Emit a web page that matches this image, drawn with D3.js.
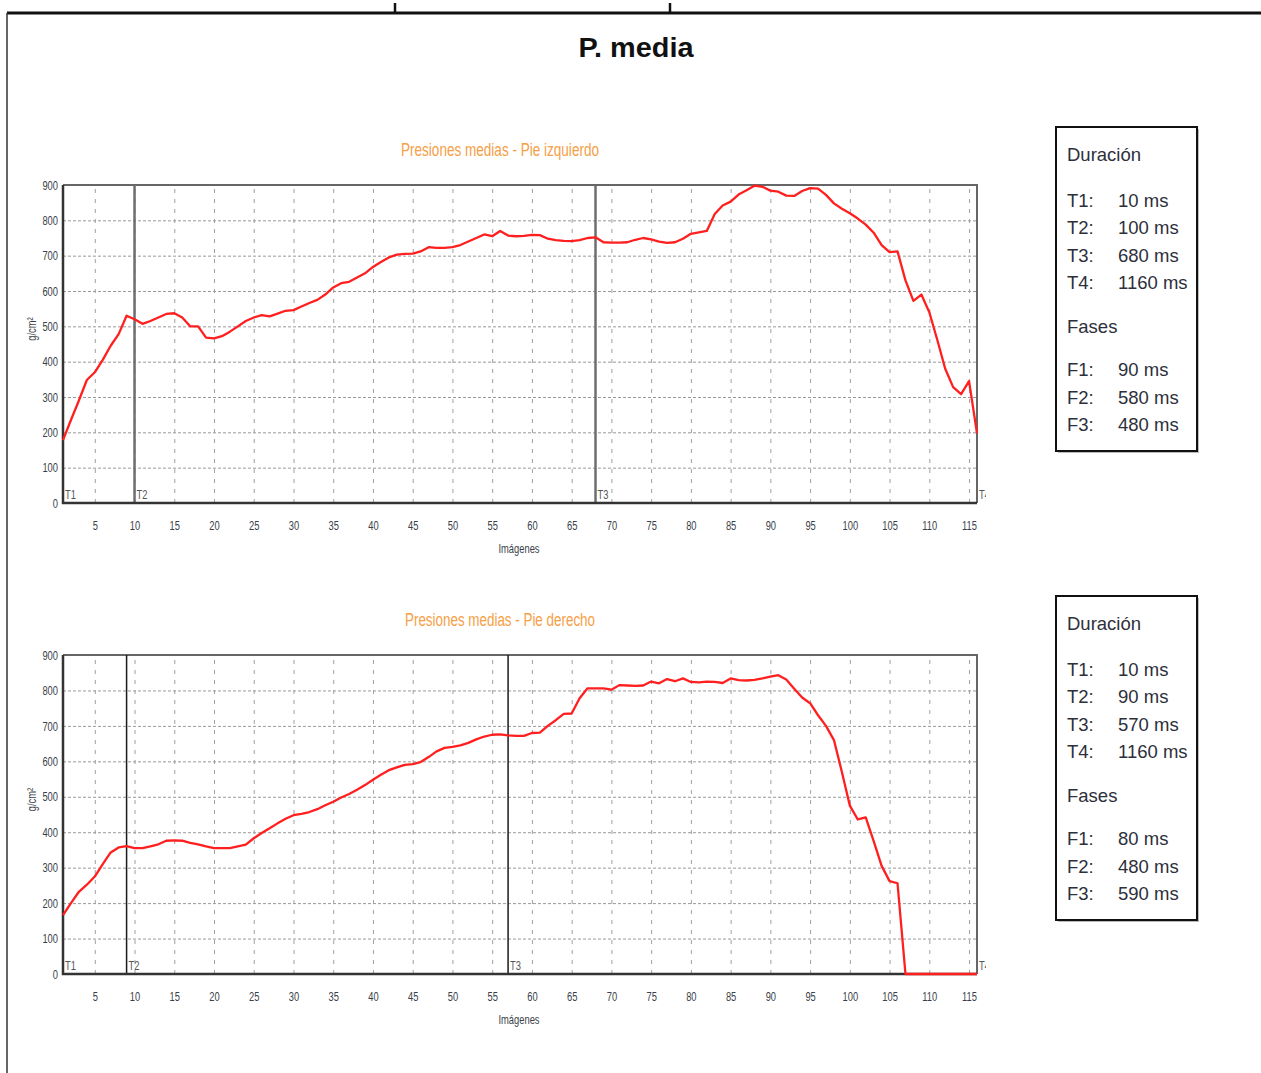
<!DOCTYPE html>
<html><head><meta charset="utf-8">
<script src="https://cdn.jsdelivr.net/npm/d3@7"></script>
<style>body{margin:0;background:#fff}svg{display:block}</style>
</head><body>
<svg id="c" width="1261" height="1073"></svg>
<script>
// ---------- data ----------
const images = d3.range(1, 117); // image index 1..116
const leftFoot = [178,235,290,348,370,405,445,478,530,520,507,515,525,535,537,525,500,500,468,466,
  472,485,500,515,525,532,528,536,544,546,556,566,575,590,610,622,626,638,650,668,
  682,695,703,705,706,712,724,722,722,724,730,740,750,760,755,770,757,755,756,759,
  758,748,744,742,741,744,750,752,738,737,737,738,745,750,746,740,736,738,748,762,
  766,770,818,842,853,873,885,898,895,884,881,870,869,883,891,890,872,848,833,820,
  805,788,765,730,710,712,630,572,590,540,462,380,328,308,345,197];
const rightFoot = [166,200,232,252,275,310,343,357,361,355,355,360,366,376,377,376,370,366,360,355,
  355,355,360,365,383,398,411,425,438,448,452,457,465,476,486,498,508,520,533,548,
  562,575,583,590,592,598,612,628,638,641,645,652,662,670,675,676,673,672,672,680,
  681,700,716,734,735,778,806,806,806,802,815,814,813,814,825,820,832,826,834,824,
  823,825,824,821,834,829,828,830,834,839,843,831,805,780,764,730,700,660,570,475,
  436,442,375,305,262,256,0,0,0,0,0,0,0,0,0,0];
const yTicks = [0,100,200,300,400,500,600,700,800,900];
const xTicks = [5,10,15,20,25,30,35,40,45,50,55,60,65,70,75,80,85,90,95,100,105,110,115];
const leftMarkLabels = ["T1","T2","T3","T4"];
const leftMarkImages = [1,10,68,116];
const rightMarkLabels = ["T1","T2","T3","T4"];
const rightMarkImages = [1,9,57,116];
const leftDurLabels = ["T1:","T2:","T3:","T4:"];
const leftDurValues = ["10 ms","100 ms","680 ms","1160 ms"];
const leftPhaseLabels = ["F1:","F2:","F3:"];
const leftPhaseValues = ["90 ms","580 ms","480 ms"];
const rightDurLabels = ["T1:","T2:","T3:","T4:"];
const rightDurValues = ["10 ms","90 ms","570 ms","1160 ms"];
const rightPhaseLabels = ["F1:","F2:","F3:"];
const rightPhaseValues = ["80 ms","480 ms","590 ms"];

// ---------- page ----------
const svg = d3.select("#c");
const narrow = "'Liberation Sans Narrow','Arial Narrow','Liberation Sans',sans-serif";
const sans = "'Liberation Sans',Arial,sans-serif";
const squeeze = "scale(0.72,1)";

// page frame
svg.append("line").attr("x1",7).attr("x2",1261).attr("y1",13).attr("y2",13).attr("stroke","#111").attr("stroke-width",3);
svg.append("line").attr("x1",7).attr("x2",7).attr("y1",13).attr("y2",1073).attr("stroke","#333").attr("stroke-width",1.5);
[395,670].forEach(x=>svg.append("line").attr("x1",x).attr("x2",x).attr("y1",3).attr("y2",13).attr("stroke","#111").attr("stroke-width",2.5));

svg.append("text").attr("x",636).attr("y",57).attr("text-anchor","middle")
  .attr("font-family",sans).attr("font-weight","bold").attr("font-size",27).attr("fill","#111")
  .attr("textLength",115).attr("lengthAdjust","spacingAndGlyphs")
  .text("P. media");

const x = d3.scaleLinear().domain([1,116]).range([63,977]);

function chart(cfg){
  const y = d3.scaleLinear().domain([0,900]).range([cfg.bottom, cfg.top]);
  const g = svg.append("g");
  // subtitle
  g.append("text").attr("x",500).attr("y",cfg.top-29).attr("text-anchor","middle")
    .attr("font-family",narrow).attr("font-size",18).attr("fill","#f5a046")
    .attr("textLength",cfg.subW).attr("lengthAdjust","spacingAndGlyphs").text(cfg.subtitle);
  // horizontal grid
  g.append("g").attr("transform",`translate(${x.range()[0]},0)`)
    .call(d3.axisLeft(y).tickValues(yTicks.slice(1)).tickSize(-(x.range()[1]-x.range()[0])).tickFormat(""))
    .call(a=>a.select(".domain").remove())
    .call(a=>a.selectAll("line").attr("stroke","#999").attr("stroke-width",1).attr("stroke-dasharray","3,2"));
  // vertical grid
  g.append("g").attr("transform",`translate(0,${cfg.bottom})`)
    .call(d3.axisBottom(x).tickValues(xTicks).tickSize(-(cfg.bottom-cfg.top)).tickFormat(""))
    .call(a=>a.select(".domain").remove())
    .call(a=>a.selectAll("line").attr("stroke","#a0a0a0").attr("stroke-width",1).attr("stroke-dasharray","4,6"));
  // y labels
  g.append("g").attr("transform",`translate(${x.range()[0]-5},0)`)
    .call(d3.axisLeft(y).tickValues(yTicks).tickSize(0).tickPadding(0))
    .call(a=>a.select(".domain").remove())
    .call(a=>a.selectAll("text").attr("font-family",narrow).attr("font-size",13).attr("fill","#3b3f4a").attr("transform",squeeze));
  // x labels
  g.append("g").attr("transform",`translate(0,${cfg.bottom+18})`)
    .call(d3.axisBottom(x).tickValues(xTicks).tickSize(0).tickPadding(0))
    .call(a=>a.select(".domain").remove())
    .call(a=>a.selectAll("text").attr("font-family",narrow).attr("font-size",13).attr("fill","#3b3f4a").attr("transform",squeeze));
  g.append("text").attr("transform",`translate(519,${cfg.bottom+50}) ${squeeze}`).attr("text-anchor","middle")
    .attr("font-family",narrow).attr("font-size",13).attr("fill","#3b3f4a").text("Imágenes");
  g.append("text").attr("transform",`translate(36,${(cfg.top+cfg.bottom)/2-15}) rotate(-90) ${squeeze}`).attr("text-anchor","middle")
    .attr("font-family",narrow).attr("font-size",13).attr("fill","#3b3f4a").text("g/cm²");
  // frame: top/right
  g.append("path").attr("d",`M${x(1)},${cfg.top}H${x(116)}V${cfg.bottom}`).attr("fill","none").attr("stroke","#666").attr("stroke-width",2);
  // marker lines
  cfg.markImages.forEach((m,i)=>{
    if(i>0 && i<cfg.markImages.length-1)
      g.append("line").attr("x1",x(m)).attr("x2",x(m)).attr("y1",cfg.top).attr("y2",cfg.bottom)
        .attr("stroke",cfg.markColor).attr("stroke-width",cfg.markW);
  });
  // axes left & bottom
  g.append("path").attr("d",`M${x(1)},${cfg.top}V${cfg.bottom}H${x(116)}`).attr("fill","none").attr("stroke","#333").attr("stroke-width",2.5);
  // data line
  g.append("path").datum(images.map((d,i)=>[d,cfg.values[i]]))
    .attr("d",d3.line().x(d=>x(d[0])).y(d=>y(d[1])))
    .attr("fill","none").attr("stroke","#ff1f1f").attr("stroke-width",2.3).attr("stroke-linejoin","round");
  // marker labels
  const clipId = "clip"+cfg.top;
  g.append("clipPath").attr("id",clipId).append("rect").attr("x",0).attr("y",0).attr("width",986).attr("height",1073);
  const cg = g.append("g").attr("clip-path",`url(#${clipId})`);
  cfg.markLabels.forEach((t,i)=>{
    cg.append("text").attr("transform",`translate(${x(cfg.markImages[i])+2},${cfg.bottom-4}) ${squeeze}`)
      .attr("font-family",narrow).attr("font-size",13).attr("fill","#555").text(t);
  });
  // legend box
  const lb = g.append("g");
  lb.append("rect").attr("x",1058).attr("y",cfg.boxTop+2).attr("width",141).attr("height",324).attr("fill","#bbb");
  lb.append("rect").attr("x",1056).attr("y",cfg.boxTop).attr("width",141).attr("height",324).attr("fill","#fff").attr("stroke","#111").attr("stroke-width",2);
  const tx = (xx,yy,t)=>lb.append("text").attr("x",xx).attr("y",yy).attr("font-family",sans).attr("font-size",18.5).attr("fill","#2d2f3a").text(t);
  const b = cfg.boxTop;
  tx(1067,b+34,"Duración");
  cfg.durL.forEach((t,i)=>{ tx(1067,b+80+i*27.3,t); tx(1118,b+80+i*27.3,cfg.durV[i]); });
  tx(1067,b+206,"Fases");
  cfg.phL.forEach((t,i)=>{ tx(1067,b+249+i*27.5,t); tx(1118,b+249+i*27.5,cfg.phV[i]); });
}

chart({top:185,bottom:503,values:leftFoot,subtitle:"Presiones medias - Pie izquierdo",subW:198,
  markImages:leftMarkImages,markLabels:leftMarkLabels,markColor:"#6e6e6e",markW:2.5,
  boxTop:127,durL:leftDurLabels,durV:leftDurValues,phL:leftPhaseLabels,phV:leftPhaseValues});
chart({top:655,bottom:974,values:rightFoot,subtitle:"Presiones medias - Pie derecho",subW:190,
  markImages:rightMarkImages,markLabels:rightMarkLabels,markColor:"#1a1a1a",markW:1.5,
  boxTop:596,durL:rightDurLabels,durV:rightDurValues,phL:rightPhaseLabels,phV:rightPhaseValues});
</script>
</body></html>
